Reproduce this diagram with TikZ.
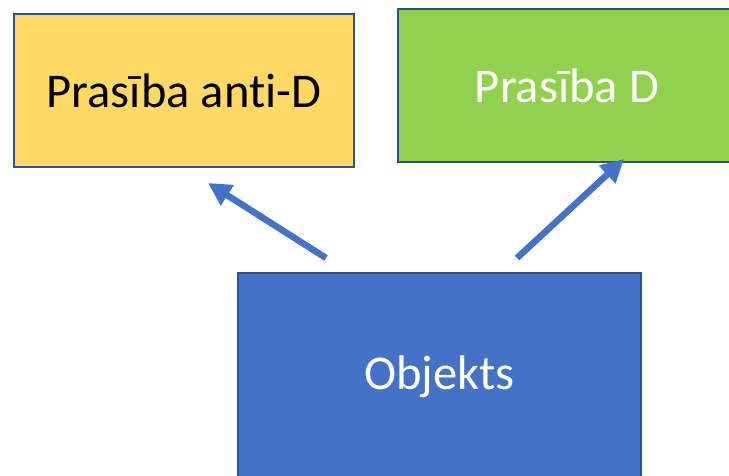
\documentclass[tikz,border=0pt]{standalone}
\usepackage{fontspec}
\setmainfont{Carlito}[Ligatures=NoCommon]
\usetikzlibrary{arrows.meta}

\definecolor{boxline}{HTML}{2F528F}
\definecolor{antiyellow}{HTML}{FFD966}
\definecolor{dgreen}{HTML}{92D050}
\definecolor{objblue}{HTML}{4472C4}

\tikzset{
  propbox/.style={draw=boxline, line width=1.5pt, inner sep=0pt,
                  font=\fontsize{48.5}{55}\selectfont},
  bigarrow/.style={draw=objblue, line width=6.5pt,
                   -{Triangle[length=23pt,width=23pt]}}
}

\begin{document}
\begin{tikzpicture}[x=1pt, y=-1pt]
     \useasboundingbox (0,0) rectangle (729,476);
     \clip (0,0) rectangle (729,476);

     \node[propbox, fill=antiyellow, minimum width=340pt, minimum height=153pt] (anti) at (184,90.5) {Prasība anti-D};
     \node[propbox, fill=dgreen, text=white, minimum width=338pt, minimum height=153pt] (dprop) at (567,85.5) {Prasība D};
     \node[propbox, fill=objblue, text=white, minimum width=403pt, minimum height=208pt] (obj) at (439.5,377) {Objekts};

     \coordinate (antistart) at (326,258);
     \coordinate (antiend) at (208,183);
     \coordinate (dstart) at (517,258);
     \coordinate (dend) at (624,159);

     \draw[bigarrow] (antistart) -- (antiend);
     \draw[bigarrow] (dstart) -- (dend);
    \end{tikzpicture}
\end{document}
